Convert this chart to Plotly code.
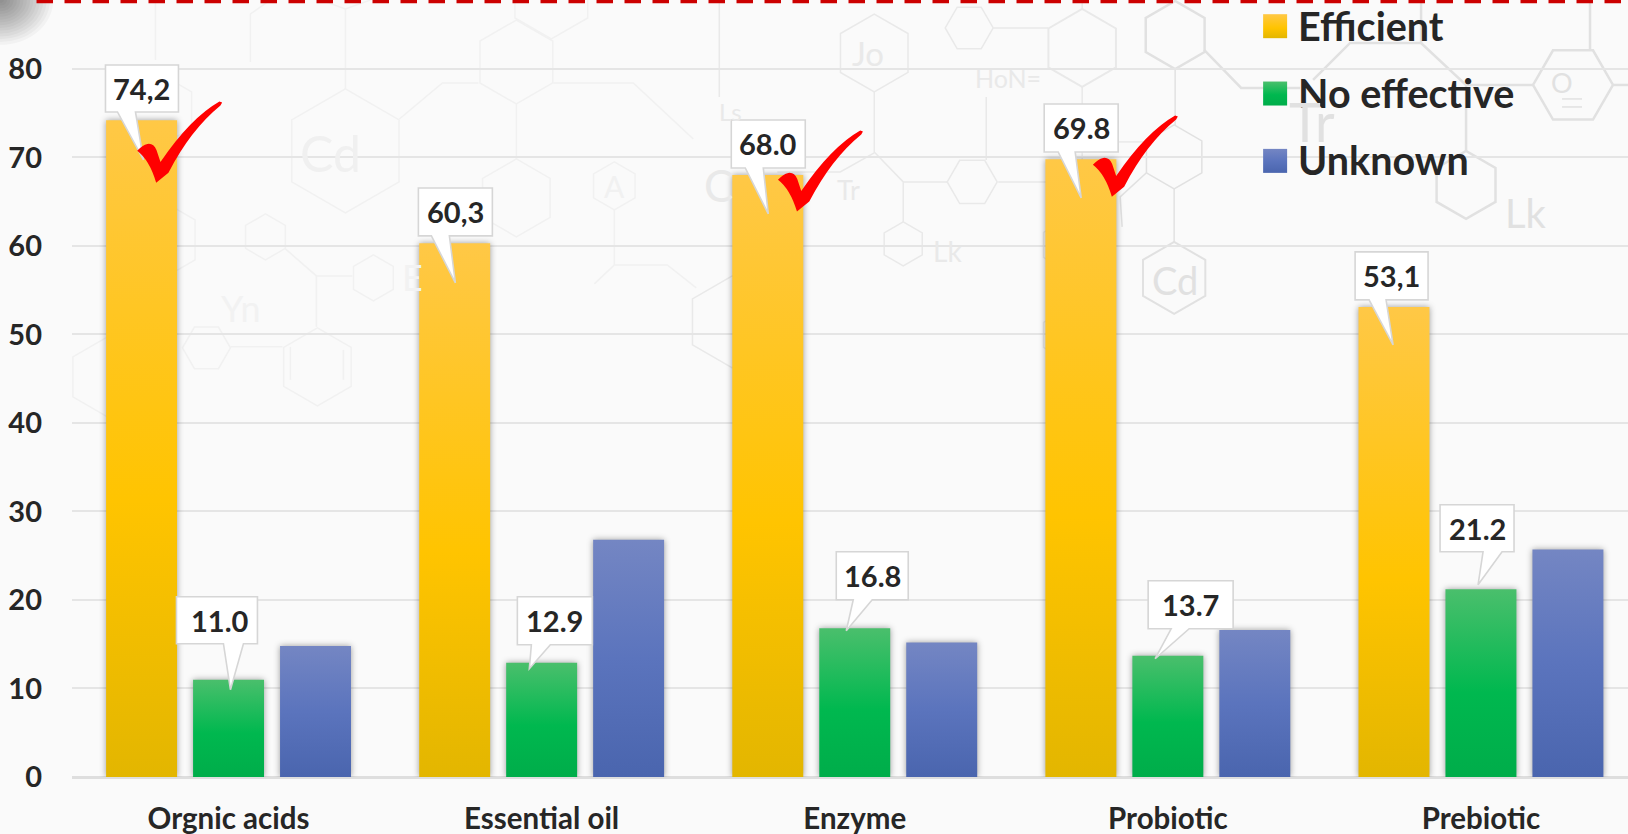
import math
import plotly.graph_objects as go

categories = ["Orgnic acids", "Essential oil", "Enzyme", "Probiotic", "Prebiotic"]
efficient = [74.2, 60.3, 68.0, 69.8, 53.1]
no_effective = [11.0, 12.9, 16.8, 13.7, 21.2]
unknown = [14.8, 26.8, 15.2, 16.6, 25.7]
efficient_labels = ["74,2", "60,3", "68.0", "69.8", "53,1"]
no_effective_labels = ["11.0", "12.9", "16.8", "13.7", "21.2"]
y_ticks = [0, 10, 20, 30, 40, 50, 60, 70, 80]

W, H = 1628, 834
L, BASE = 71.5, 777.3
TXT = "#262626"
FONT = "Lato"


def fx(px):
    return (px - L) / (W - L)


def fy(py):
    return 1 - py / BASE


def poly(points, close=True):
    d = "M" + " L".join(f"{fx(x):.5f},{fy(y):.5f}" for x, y in points)
    return d + (" Z" if close else "")


shapes = []
annotations = []


def hexagon(cx, cy, r, col="#ececec", w=1.5, flat=False):
    start = 0 if flat else 30
    pts = [(cx + r * math.cos(math.radians(start + 60 * i)),
            cy + r * math.sin(math.radians(start + 60 * i))) for i in range(6)]
    shapes.append(dict(type="path", xref="paper", yref="paper", layer="below",
                       path=poly(pts), line=dict(color=col, width=w)))


def bond(pts, col="#ececec", w=1.5):
    shapes.append(dict(type="path", xref="paper", yref="paper", layer="below",
                       path=poly(pts, close=False), line=dict(color=col, width=w)))


def atom(x, y, text, size, col="#ececec"):
    annotations.append(dict(x=fx(x), y=fy(y), xref="paper", yref="paper", text=text,
                            showarrow=False, xanchor="center", yanchor="middle",
                            font=dict(family=FONT, size=size, color=col)))


# faint molecular backdrop: left part
F1, F2, F3 = "#f1f1f1", "#e9e9e9", "#e1e1e1"
hexagon(345, 151, 62, F1)
atom(330, 153, "Cd", 50, "#f0f0f0")
bond([(345, 89), (345, 9)], F1)
bond([(320, 0), (345, 9), (370, 0)], F1)
bond([(155, 0), (155, 60)], F1)
bond([(250, 62), (250, 14), (270, 0)], F1)
bond([(399, 119), (442, 83), (478, 83)], F1)
hexagon(516, 62, 42, F1)
hexagon(551, -3, 42, F1)
bond([(553, 83), (633, 83), (693, 139)], F1)
bond([(516, 104), (516, 159)], F1)
hexagon(516, 198, 39, F1)
hexagon(614, 186, 24, F1)
atom(614, 186, "A", 30, F1)
bond([(614, 209), (614, 265)], F1)
bond([(594, 284), (614, 265), (667, 265), (696, 288)], F1)
hexagon(732, 322, 46, F2)
bond([(719, 0), (719, 97)], F2)
atom(730, 112, "Ls", 24, F2)
atom(718, 185, "C", 44, F2)
hexagon(265, 237, 23, F1)
bond([(285, 249), (316, 276), (352, 276)], F1)
hexagon(373, 278, 23, F1)
bond([(316, 276), (316, 327)], F1)
hexagon(317, 367, 39, F1)
bond([(290, 347), (290, 380)], F1)
bond([(343, 350), (343, 380)], F1)
hexagon(206, 348, 24, F1, flat=True)
bond([(230, 347), (282, 347)], F1)
hexagon(107, 377, 40, F1)
atom(241, 308, "Yn", 36, "#f2f2f2")
hexagon(160, 240, 40, F1)
hexagon(160, 110, 36, F1)
atom(412, 277, "E", 36, "#f2f2f2")

# centre
hexagon(874, 53, 39, F2)
atom(868, 53, "Jo", 33, F2)
bond([(874, 92), (874, 152), (903, 182), (903, 222)], F2)
bond([(874, 153), (840, 172), (777, 172)], F2)
hexagon(903, 244, 22, F2)
atom(947, 251, "Lk", 28, F2)
atom(848, 190, "Tr", 27, F2)
bond([(903, 182), (947, 182)], F2)
hexagon(972, 182, 25, F2, flat=True)
bond([(998, 182), (1046, 182)], F2)
bond([(986, 160), (986, 97)], F2)
hexagon(969, 28, 24, F2, flat=True)
bond([(993, 28), (1048, 28)], F2)
hexagon(1082, 48, 39, F2, w=2)
bond([(1082, 87), (1082, 160)], F2)
bond([(1082, 0), (1082, 9)], F2)
atom(1008, 78, "HoN=", 25, F2)
bond([(1118, 142), (1143, 142)], F2)
hexagon(1065, 245, 25, F2)
hexagon(1065, 335, 25, F2)

# right
hexagon(1175, 35, 34, F3, w=2.5)
bond([(1175, 68), (1175, 125)], F3)
bond([(1204, 50), (1241, 88), (1300, 88)], F3, w=2.5)
hexagon(1174, 157, 32, F3)
bond([(1174, 189), (1174, 243)], F3)
hexagon(1174, 278, 36, F3, w=2)
atom(1175, 280, "Cd", 38, F3)
bond([(1146, 173), (1120, 197), (1122, 227)], F3)
bond([(1313, 80), (1350, 43), (1421, 43), (1466, 85), (1466, 152)], F3, w=2.5)
bond([(1421, 0), (1421, 43)], F3, w=2.5)
bond([(1466, 85), (1533, 85)], F3, w=2.5)
hexagon(1466, 185, 34, F3, w=2.5)
atom(1526, 213, "Lk", 40, F3)
atom(1312, 122, "Tr", 54, F3)
hexagon(1573, 85, 40, F3, w=2.5, flat=True)
bond([(1590, 0), (1590, 50)], F3, w=2.5)
bond([(1613, 85), (1628, 85)], F3, w=2.5)
atom(1562, 83, "O", 27, F3)
bond([(1562, 99), (1582, 99)], F3)
bond([(1562, 107), (1582, 107)], F3)

# blurred corner shade
for i in range(1, 17):
    r = 3.3 * i
    shapes.append(dict(type="circle", xref="paper", yref="paper", layer="below",
                       x0=fx(-r), x1=fx(r), y0=fy(r * 0.85), y1=fy(-r * 0.85),
                       fillcolor="#000000", opacity=0.032, line=dict(width=0)))

# dashed red rule across the top
shapes.append(dict(type="line", xref="paper", yref="paper", layer="above",
                   x0=fx(36), x1=fx(W), y0=fy(1.5), y1=fy(1.5),
                   line=dict(color="#CC0000", width=3.5, dash="16.5px,11.5px")))

# callouts: box left, right, top, bottom, tail base left, right, tip x, y
callouts = [
    (105, 178, 65, 112, 117, 135, 143, 160, 141.5, efficient_labels[0]),
    (418, 492, 188, 236, 431, 449, 455, 283, 455, efficient_labels[1]),
    (731, 805, 120, 168, 745, 763, 768, 214, 768, efficient_labels[2]),
    (1044, 1118, 104, 152, 1058, 1075, 1081, 198, 1081, efficient_labels[3]),
    (1355, 1428, 252, 300, 1369, 1386, 1393, 345, 1391.5, efficient_labels[4]),
    (176, 257, 597, 644, 223, 243, 230, 690, 220, no_effective_labels[0]),
    (517, 592, 597, 645, 531, 550, 529, 669, 554, no_effective_labels[1]),
    (836, 908, 552, 600, 853, 872, 846, 631, 872, no_effective_labels[2]),
    (1148, 1233, 581, 629, 1171, 1189, 1155, 659, 1190, no_effective_labels[3]),
    (1440, 1514, 505, 552, 1483, 1502, 1478, 585, 1477, no_effective_labels[4]),
]
for x0, x1, y0, y1, b0, b1, tx, ty, cx, label in callouts:
    pts = [(x0, y0), (x1, y0), (x1, y1), (b1, y1), (tx, ty), (b0, y1), (x0, y1)]
    shapes.append(dict(type="path", xref="paper", yref="paper", layer="above",
                       path=poly(pts), fillcolor="#ffffff",
                       line=dict(color="#d6d6d6", width=1.6)))
    annotations.append(dict(x=fx(cx), y=fy((y0 + y1) / 2), xref="paper", yref="paper",
                            text=label, showarrow=False, xanchor="center", yanchor="middle",
                            font=dict(family=FONT, size=29, color=TXT, weight=700)))

# red check marks
for dx, dy in [(0, 0), (641, 29), (956, 14)]:
    P = lambda x, y: f"{fx(x + dx):.5f},{fy(y + dy):.5f}"
    path = (f"M{P(136.7, 150.7)} Q{P(142, 145)} {P(147, 144)} Q{P(153, 143)} {P(156, 150)} "
            f"L{P(160, 162)} Q{P(190, 118)} {P(219, 101.5)} L{P(221.7, 102.5)} L{P(220, 105.5)} "
            f"Q{P(190, 130)} {P(168, 172.7)} L{P(155.7, 182.7)} Q{P(149, 160)} {P(136.7, 150.7)} Z")
    shapes.append(dict(type="path", xref="paper", yref="paper", layer="above", path=path,
                       fillcolor="#FF0000", line=dict(width=0)))

fig = go.Figure()
for name, vals, col in [("Efficient", efficient, "#FFC400"),
                        ("No effective", no_effective, "#00B84F"),
                        ("Unknown", unknown, "#5B74BD")]:
    fig.add_bar(x=categories, y=vals, name=name, legendgroup=name,
                marker=dict(color=col, line=dict(width=0)), hoverinfo="x+y+name")

fig.update_layout(
    width=W, height=H, autosize=False,
    margin=dict(l=L, r=0, t=0, b=H - BASE, pad=0, autoexpand=False),
    paper_bgcolor="#FAFAFA", plot_bgcolor="rgba(0,0,0,0)",
    barmode="group", bargap=0.1667, bargroupgap=0.184,
    font=dict(family=FONT, color=TXT),
    shapes=shapes, annotations=annotations,
    legend=dict(x=fx(1258), y=fy(-7), xanchor="left", yanchor="top",
                bgcolor="rgba(0,0,0,0)", borderwidth=0, traceorder="grouped",
                tracegroupgap=13, itemclick=False, itemdoubleclick=False,
                font=dict(family=FONT, size=39.5, color=TXT, weight=700)),
    xaxis=dict(type="category", range=[-0.5, (W - L) / 313.2 - 0.5], showgrid=False,
               showline=False, ticks="", ticklabelstandoff=21,
               tickfont=dict(family=FONT, size=29.5, color=TXT, weight=700)),
    yaxis=dict(range=[0, BASE / 8.855], tickvals=y_ticks, showgrid=True,
               gridcolor="#E5E5E5", gridwidth=1.5, zeroline=True,
               zerolinecolor="#DEDEDE", zerolinewidth=2.5, showline=False, ticks="",
               ticklabelstandoff=29,
               tickfont=dict(family=FONT, size=29, color=TXT, weight=700)),
)

post = r"""
document.documentElement.style.margin='0';
document.body.style.margin='0';
document.body.style.overflow='hidden';
var gd=document.querySelector('.js-plotly-plot');
var svg=gd.querySelector('svg.main-svg');
var NS='http://www.w3.org/2000/svg';
var defs=document.createElementNS(NS,'defs');
var grads=[[['0','#FFC846'],['0.58','#FFC400'],['1','#E3B600']],
           [['0','#4ABF6C'],['0.55','#00B84F'],['1','#00AD4A']],
           [['0','#7486C3'],['0.5','#5B74BD'],['1','#4A65AE']]];
grads.forEach(function(g,i){
  var lg=document.createElementNS(NS,'linearGradient');
  lg.setAttribute('id','barGrad'+i);
  lg.setAttribute('x1','0');lg.setAttribute('y1','0');lg.setAttribute('x2','0');lg.setAttribute('y2','1');
  g.forEach(function(s){var st=document.createElementNS(NS,'stop');
    st.setAttribute('offset',s[0]);st.setAttribute('stop-color',s[1]);lg.appendChild(st);});
  defs.appendChild(lg);
});
svg.insertBefore(defs,svg.firstChild);
function restyle(){
  gd.querySelectorAll('.barlayer .trace.bars').forEach(function(t,i){
    t.querySelectorAll('.point path').forEach(function(p){
      p.style.fill='url(#barGrad'+i+')';
      p.style.filter='drop-shadow(0px 0px 3px rgba(0,0,0,0.38))';
    });
  });
  gd.querySelectorAll('.legend .traces').forEach(function(t,i){
    t.querySelectorAll('.legendpoints path').forEach(function(p){
      p.setAttribute('d','M9,13H-15V-11H9Z');
      p.style.fill='url(#barGrad'+i+')';
      p.style.stroke='none';
    });
  });
}
restyle();
[50,200,600,1500].forEach(function(t){setTimeout(restyle,t);});
"""
fig.write_html("out.html", post_script=post, config=dict(displayModeBar=False))
